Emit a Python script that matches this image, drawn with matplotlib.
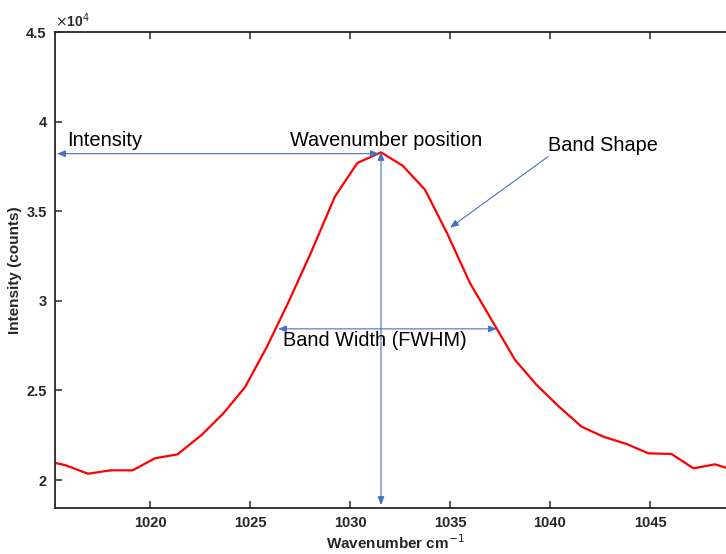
import matplotlib
matplotlib.use("Agg")
import matplotlib.pyplot as plt
from matplotlib.ticker import FuncFormatter

# ==================== Data ====================
wavenumber = [1014.62, 1015.75, 1016.9, 1018.03, 1019.13, 1020.25, 1021.38, 1022.58,
              1023.67, 1024.75, 1025.85, 1026.9, 1028.0, 1029.25, 1030.37, 1031.55,
              1032.63, 1033.75, 1034.85, 1036.0, 1037.08, 1038.25, 1039.33, 1040.45,
              1041.58, 1042.67, 1043.83, 1044.92, 1046.08, 1047.17, 1048.25, 1049.35]
intensity = [21100, 20838, 20352, 20542, 20542, 21212, 21436, 22514,
             23724, 25179, 27447, 29872, 32570, 35827, 37693, 38285,
             37542, 36201, 33782, 30989, 28939, 26704, 25307, 24095,
             22978, 22419, 22011, 21492, 21453, 20652, 20877, 20500]

xticks = [1020, 1025, 1030, 1035, 1040, 1045]
yticks = [20000, 25000, 30000, 35000, 40000, 45000]

peak_x = 1031.55
peak_y = 38212
fwhm_left, fwhm_right, fwhm_y = 1026.4, 1037.35, 28436
shape_from = (1039.9, 38045)
shape_to = (1035.0, 34078)

ARROW_COLOR = '#4472C4'
TEXT_FONT = ['Liberation Sans', 'DejaVu Sans']

# ==================== Figure ====================
x_lo, x_hi = 1015.25, 1049.25
fig = plt.figure(figsize=(7.26, 5.54), dpi=100)
ax = fig.add_axes([55 / 726, 46 / 554, (x_hi - x_lo) * 20 / 726, 476 / 554])

ax.plot(wavenumber, intensity, color='#ff0000', lw=1.6)

ax.set_xlim(x_lo, x_hi)
ax.set_ylim(18440, 45000)
ax.set_xticks(xticks)
ax.set_yticks(yticks)
ax.yaxis.set_major_formatter(FuncFormatter(lambda v, p: f"{v / 1e4:g}"))

for side in ax.spines.values():
    side.set_linewidth(1.3)
    side.set_color('#262626')
ax.tick_params(direction='in', length=5, width=1.1, color='#262626',
               top=True, right=True, labelsize=10.5, pad=6)
for lab in ax.get_xticklabels() + ax.get_yticklabels():
    lab.set_fontweight('bold')
    lab.set_family(TEXT_FONT)
    lab.set_color('#262626')

ax.text(0.0, 1.005, r'$\times$10$^4$', transform=ax.transAxes, fontsize=10,
        fontweight='bold', family=TEXT_FONT, ha='left', va='bottom', color='#262626')

ax.set_ylabel('Intensity (counts)', fontsize=11, fontweight='bold', family=TEXT_FONT,
              color='#262626')
ax.yaxis.set_label_coords(-0.048, 0.5)
ax.set_xlabel('Wavenumber cm$^{-1}$', fontsize=11, fontweight='bold', family=TEXT_FONT,
              color='#262626', labelpad=2)

# ==================== Annotations ====================
arrow = dict(arrowstyle='<|-|>,head_length=0.5,head_width=0.2', color=ARROW_COLOR,
             lw=0.8, shrinkA=0, shrinkB=0)
single = dict(arrowstyle='-|>,head_length=0.5,head_width=0.2', color=ARROW_COLOR,
              lw=0.8, shrinkA=0, shrinkB=0)

ax.annotate('', xy=(1015.35, peak_y), xytext=(peak_x - 0.1, peak_y), arrowprops=arrow)
ax.annotate('', xy=(peak_x, 18600), xytext=(peak_x, peak_y + 100), arrowprops=arrow)
ax.annotate('', xy=(fwhm_left, fwhm_y), xytext=(fwhm_right, fwhm_y), arrowprops=arrow)
ax.annotate('', xy=shape_to, xytext=shape_from, arrowprops=single)

ax.text(1015.85, 38950, 'Intensity', fontsize=14.5, family=TEXT_FONT, va='center')
ax.text(1027.0, 38950, 'Wavenumber position', fontsize=14.3, family=TEXT_FONT, va='center')
ax.text(1039.9, 38650, 'Band Shape', fontsize=14.3, family=TEXT_FONT, va='center')
ax.text(1026.65, 27770, 'Band Width (FWHM)', fontsize=14.3, family=TEXT_FONT, va='center')

fig.savefig('out.png', dpi=100)
